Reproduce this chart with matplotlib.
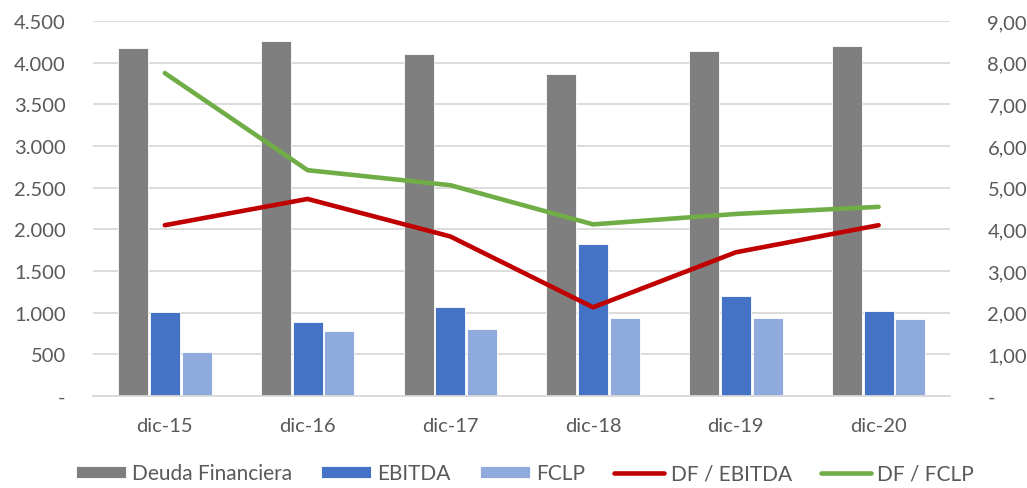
import numpy as np
import matplotlib.pyplot as plt
from matplotlib.ticker import FuncFormatter

plt.rcParams['font.family'] = ['Lato', 'DejaVu Sans']

# datos
periodos = ['dic-15', 'dic-16', 'dic-17', 'dic-18', 'dic-19', 'dic-20']
deuda = [4180, 4256, 4104, 3860, 4136, 4200]
ebitda = [1004, 892, 1064, 1824, 1200, 1016]
fclp = [532, 776, 804, 932, 936, 920]
df_ebitda = [4.10, 4.73, 3.83, 2.13, 3.45, 4.10]
df_fclp = [7.75, 5.42, 5.06, 4.12, 4.37, 4.54]

txt = '#595959'
grid = '#d9d9d9'

fig = plt.figure(figsize=(10.27, 4.89), dpi=100)
ax = fig.add_axes([0.091, 0.188, 0.834, 0.767])
ax2 = ax.twinx()

x = np.arange(len(periodos))
w = 0.21
sep = 0.222
ax.bar(x - sep, deuda, w, color='#7f7f7f', edgecolor='white', linewidth=0.6, label='Deuda Financiera', zorder=2)
ax.bar(x, ebitda, w, color='#4472c4', edgecolor='white', linewidth=0.6, label='EBITDA', zorder=2)
ax.bar(x + sep, fclp, w, color='#8faadc', edgecolor='white', linewidth=0.6, label='FCLP', zorder=2)

ax2.plot(x, df_ebitda, color='#c00000', lw=3.3, solid_capstyle='round', label='DF / EBITDA')
ax2.plot(x, df_fclp, color='#70ad47', lw=3.3, solid_capstyle='round', label='DF / FCLP')

ax.set_xlim(-0.5, len(periodos) - 0.5)
ax.set_ylim(0, 4500)
ax.set_yticks(np.arange(0, 4501, 500))
ax2.set_ylim(0, 9)
ax2.set_yticks(np.arange(0, 9.01, 1))


def fmt_left(v, p):
    if v == 0:
        return '-'
    return f'{v:,.0f}'.replace(',', '.')


def fmt_right(v, p):
    if v == 0:
        return '-'
    return f'{v:.2f}'.replace('.', ',')


ax.yaxis.set_major_formatter(FuncFormatter(fmt_left))
ax2.yaxis.set_major_formatter(FuncFormatter(fmt_right))

ax.set_xticks(x)
ax.set_xticklabels(periodos)
ax.grid(axis='y', color=grid, lw=1.3, zorder=0)
ax.set_axisbelow(True)

for a in (ax, ax2):
    for s in a.spines.values():
        s.set_visible(False)
    a.tick_params(length=0, colors=txt, labelsize=14.5)
ax.spines['bottom'].set_visible(True)
ax.spines['bottom'].set_color(grid)
ax.spines['bottom'].set_linewidth(1.3)
ax.tick_params(axis='x', pad=15)
ax.tick_params(axis='y', pad=20)
ax2.tick_params(axis='y', pad=27)

h1, l1 = ax.get_legend_handles_labels()
h2, l2 = ax2.get_legend_handles_labels()
fig.legend(h1 + h2, l1 + l2, loc='center', ncol=5, frameon=False,
           bbox_to_anchor=(0.511, 0.03), fontsize=15, labelcolor=txt,
           handlelength=2.4, handleheight=0.5, columnspacing=1.4, handletextpad=0.3)

fig.savefig('out.png', dpi=100)
